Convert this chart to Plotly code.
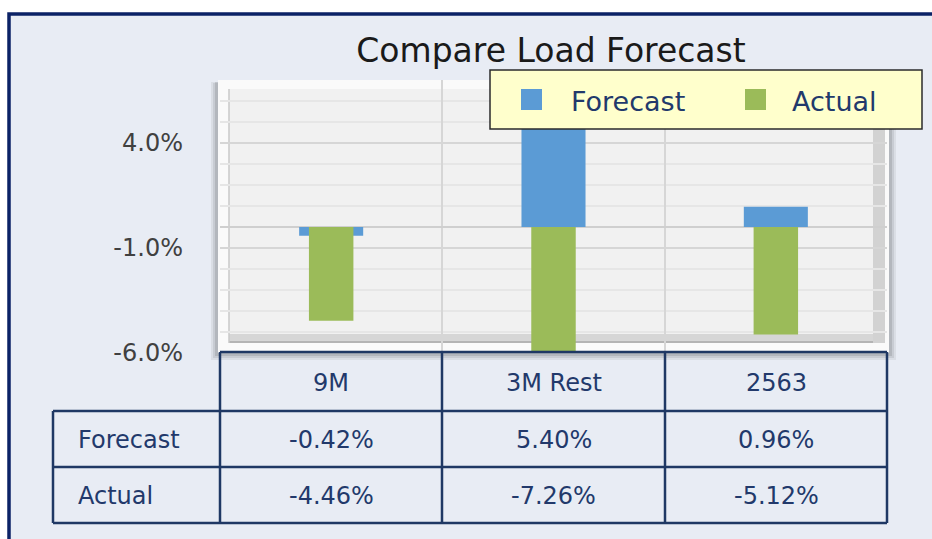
import plotly.graph_objects as go

# ---------------- data ----------------
categories = ["9M", "3M Rest", "2563"]
forecast = [-0.42, 5.40, 0.96]
actual = [-4.46, -7.26, -5.12]
series_names = ["Forecast", "Actual"]
y_ticks = [-6.0, -1.0, 4.0]
title_text = "Compare Load Forecast"

# ---------------- styling ----------------
W, H = 932, 539
FONT = "DejaVu Sans"
NAVY = "#1F3864"
TEXT_NAVY = "#22396B"
C_FORE = "#5B9BD5"
C_ACT = "#9BBB59"


def px(x):
    return x / W


def py(y):
    return 1 - y / H


fig = go.Figure()
fig.add_trace(go.Bar(x=categories, y=forecast, name=series_names[0],
                     marker=dict(color=C_FORE, line=dict(width=0)),
                     width=0.288, showlegend=False))
fig.add_trace(go.Bar(x=categories, y=actual, name=series_names[1],
                     marker=dict(color=C_ACT, line=dict(width=0)),
                     width=0.2, showlegend=False))

shapes = []
# outer panel
shapes.append(dict(type="rect", xref="paper", yref="paper",
                   x0=px(9), x1=1.05, y0=-0.05, y1=py(14),
                   fillcolor="#E8ECF4", line=dict(color="#0B2266", width=3.5),
                   layer="below"))
# plot frame shadow
for (x0, y0, x1, y1, op) in [(211, 82, 896, 360, 0.06), (213, 83, 894, 358, 0.08),
                             (215, 82, 892, 356, 0.10)]:
    shapes.append(dict(type="rect", xref="paper", yref="paper",
                       x0=px(x0), x1=px(x1), y0=py(y1), y1=py(y0),
                       fillcolor=f"rgba(0,0,0,{op})", line=dict(width=0), layer="below"))
# white frame
shapes.append(dict(type="rect", xref="paper", yref="paper",
                   x0=px(218), x1=px(889), y0=py(353), y1=py(80),
                   fillcolor="#FAFAFA", line=dict(width=0), layer="below"))
# hatched wall (approx. solid)
shapes.append(dict(type="rect", xref="paper", yref="paper",
                   x0=px(229), x1=px(885), y0=py(343), y1=py(89),
                   fillcolor="#F1F1F1", line=dict(width=0), layer="below"))
# bottom 3D band
shapes.append(dict(type="rect", xref="paper", yref="paper",
                   x0=px(229), x1=px(885), y0=py(343), y1=py(334),
                   fillcolor="#D6D6D6", line=dict(width=0), layer="below"))
shapes.append(dict(type="line", xref="paper", yref="paper",
                   x0=px(229), x1=px(885), y0=py(342), y1=py(342),
                   line=dict(color="#A8A8A8", width=1.5), layer="below"))
# right 3D band
shapes.append(dict(type="rect", xref="paper", yref="paper",
                   x0=px(873), x1=px(885), y0=py(343), y1=py(89),
                   fillcolor="#D2D2D2", line=dict(width=0), layer="below"))
# left wall edge
shapes.append(dict(type="line", xref="paper", yref="paper",
                   x0=px(229), x1=px(229), y0=py(343), y1=py(89),
                   line=dict(color="#C8C8C8", width=1.5), layer="below"))

# ---------------- data table ----------------
col_edges = [220, 442, 665, 887]
row_edges = [352, 411, 467, 523]
label_left = 53
lw = 2.5
shapes.append(dict(type="line", xref="paper", yref="paper", x0=px(col_edges[0]), x1=px(col_edges[-1]),
                   y0=py(row_edges[0]), y1=py(row_edges[0]), line=dict(color=NAVY, width=lw)))
for r in row_edges[1:]:
    shapes.append(dict(type="line", xref="paper", yref="paper", x0=px(label_left), x1=px(col_edges[-1]),
                       y0=py(r), y1=py(r), line=dict(color=NAVY, width=lw)))
for c in col_edges:
    shapes.append(dict(type="line", xref="paper", yref="paper", x0=px(c), x1=px(c),
                       y0=py(row_edges[0]), y1=py(row_edges[-1]), line=dict(color=NAVY, width=lw)))
shapes.append(dict(type="line", xref="paper", yref="paper", x0=px(label_left), x1=px(label_left),
                   y0=py(row_edges[1]), y1=py(row_edges[-1]), line=dict(color=NAVY, width=lw)))

annotations = []
tfont = dict(family=FONT, size=24, color=TEXT_NAVY)
for i, cat in enumerate(categories):
    cx = (col_edges[i] + col_edges[i + 1]) / 2
    annotations.append(dict(xref="paper", yref="paper", x=px(cx), y=py((row_edges[0] + row_edges[1]) / 2 + 1),
                            text=cat, showarrow=False, font=tfont, xanchor="center", yanchor="middle"))
    for j, series in enumerate([forecast, actual]):
        ry = (row_edges[j + 1] + row_edges[j + 2]) / 2 + 1
        annotations.append(dict(xref="paper", yref="paper", x=px(cx), y=py(ry),
                                text=f"{series[i]:.2f}%", showarrow=False, font=tfont,
                                xanchor="center", yanchor="middle"))
for j, name in enumerate(series_names):
    ry = (row_edges[j + 1] + row_edges[j + 2]) / 2 + 1
    annotations.append(dict(xref="paper", yref="paper", x=px(76), y=py(ry), text=name,
                            showarrow=False, font=tfont, xanchor="left", yanchor="middle"))

# ---------------- legend (manual) ----------------
legend_shapes = [dict(type="rect", xref="paper", yref="paper", x0=px(490), x1=px(922),
                      y0=py(129), y1=py(70), fillcolor="#FFFFCC",
                      line=dict(color="#2B2B2B", width=1.5))]
leg_items = [(521, 572, C_FORE), (745, 793, C_ACT)]
for (mx, tx, col), name in zip(leg_items, series_names):
    legend_shapes.append(dict(type="rect", xref="paper", yref="paper", x0=px(mx), x1=px(mx + 21),
                              y0=py(110), y1=py(89), fillcolor=col, line=dict(width=0)))
    annotations.append(dict(xref="paper", yref="paper", x=px(tx - 3), y=py(101), text=name,
                            showarrow=False, font=dict(family=FONT, size=27, color=TEXT_NAVY),
                            xanchor="left", yanchor="middle"))
shapes.extend(legend_shapes)

fig.update_layout(
    width=W, height=H,
    autosize=False,
    margin=dict(l=0, r=0, t=0, b=0, pad=0, autoexpand=False),
    paper_bgcolor="white",
    plot_bgcolor="rgba(0,0,0,0)",
    barmode="overlay",
    showlegend=False,
    font=dict(family=FONT),
    title=dict(text=title_text, x=px(551), y=py(50), xanchor="center", yanchor="middle",
               automargin=False,
               font=dict(family=FONT, size=33, color="#1A1A1A")),
    xaxis=dict(domain=[px(220), px(887)], type="category", range=[-0.5, 2.5], automargin=False,
               tickson="boundaries", showgrid=True, gridcolor="#D6D6D6", gridwidth=1.5,
               showticklabels=False, ticks="", showline=False, zeroline=False, fixedrange=True),
    yaxis=dict(domain=[py(353), py(80)], range=[-6, 7], automargin=False,
               tickvals=y_ticks, ticktext=[f"{v:.1f}%" for v in y_ticks],
               showgrid=True, gridcolor="#D6D6D6", gridwidth=1.5,
               minor=dict(dtick=1, tick0=0, showgrid=True, gridcolor="#E6E6E6", gridwidth=1.5),
               zeroline=True, zerolinecolor="#CFCFCF", zerolinewidth=2,
               ticks="", ticklabelstandoff=36, showline=False,
               tickfont=dict(family=FONT, size=24, color="#404040"), fixedrange=True),
    shapes=shapes,
    annotations=annotations,
)

fig.write_html("out.html", config={"displayModeBar": False, "responsive": False},
               post_script="document.body.style.margin='0';document.body.style.overflow='hidden';")
